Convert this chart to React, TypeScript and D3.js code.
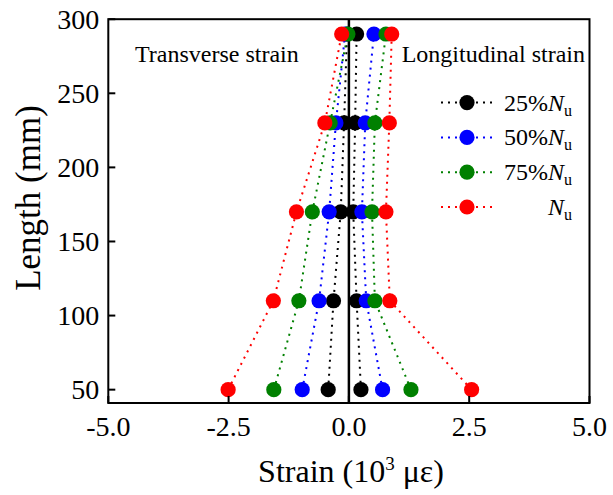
import React from "react";
import * as d3 from "d3";

const lengths = [50, 110, 170, 230, 290];
const seriesNames = ["25%", "50%", "75%", ""];
const seriesColors = ["#000000", "#0000ff", "#008000", "#ff0000"];
const transverse = [
  [-0.43, -0.32, -0.17, -0.10, -0.04],
  [-0.97, -0.62, -0.41, -0.27, -0.08],
  [-1.56, -1.04, -0.76, -0.39, -0.02],
  [-2.51, -1.57, -1.09, -0.50, -0.15],
];
const longitudinal = [
  [0.25, 0.16, 0.09, 0.13, 0.16],
  [0.70, 0.36, 0.27, 0.34, 0.52],
  [1.29, 0.54, 0.48, 0.54, 0.77],
  [2.55, 0.85, 0.77, 0.84, 0.89],
];
const xTicks = [-5, -2.5, 0, 2.5, 5];
const xTickLabels = ["-5.0", "-2.5", "0.0", "2.5", "5.0"];
const yTicks = [50, 100, 150, 200, 250, 300];

const W = 613;
const H = 495;
const left = 108.3;
const right = 589.5;
const top = 19.2;
const bottom = 403;
const FONT = "'Liberation Serif', 'Times New Roman', serif";

export default function App() {
  const x = d3.scaleLinear().domain([-5, 5]).range([left, right]);
  const y = d3.scaleLinear().domain([41, 300]).range([bottom, top]);
  const line = d3
    .line<[number, number]>()
    .x((d) => x(d[0]))
    .y((d) => y(d[1]));

  return (
    <svg
      width={W}
      height={H}
      style={{ position: "absolute", left: 0, top: 0, background: "#fff" }}
      fontFamily={FONT}
    >
      <rect x={0} y={0} width={W} height={H} fill="#fff" />
      {/* zero line */}
      <line x1={x(0)} x2={x(0)} y1={top} y2={bottom} stroke="#000" strokeWidth={2.5} />
      {/* series */}
      {seriesColors.map((c, i) => {
        const tr = lengths.map((l, j) => [transverse[i][j], l] as [number, number]);
        const lo = lengths.map((l, j) => [longitudinal[i][j], l] as [number, number]);
        return (
          <g key={i}>
            <path d={line(tr) || ""} fill="none" stroke={c} strokeWidth={2} strokeDasharray="2,5" />
            <path d={line(lo) || ""} fill="none" stroke={c} strokeWidth={2} strokeDasharray="2,5" />
            {tr.concat(lo).map((p, k) => (
              <circle key={k} cx={x(p[0])} cy={y(p[1])} r={7.6} fill={c} />
            ))}
          </g>
        );
      })}
      {/* frame */}
      <rect x={left} y={top} width={right - left} height={bottom - top} fill="none" stroke="#000" strokeWidth={2} />
      {/* y ticks */}
      {yTicks.map((t) => (
        <g key={t}>
          <line x1={left} x2={left + 7} y1={y(t)} y2={y(t)} stroke="#000" strokeWidth={2} />
          <text x={left - 9} y={y(t)} dy="0.35em" textAnchor="end" fontSize={28}>
            {t}
          </text>
        </g>
      ))}
      {/* x ticks */}
      {xTicks.map((t, i) => (
        <g key={t}>
          <line x1={x(t)} x2={x(t)} y1={bottom} y2={bottom - 7} stroke="#000" strokeWidth={2} />
          <text x={x(t)} y={436} textAnchor="middle" fontSize={28}>
            {xTickLabels[i]}
          </text>
        </g>
      ))}
      {/* axis titles */}
      <text x={351} y={482} textAnchor="middle" fontSize={32}>
        Strain (10
        <tspan dy={-12} fontSize={19}>3</tspan>
        <tspan dy={12}> με)</tspan>
      </text>
      <text
        transform={`translate(40, 198) rotate(-90)`}
        textAnchor="middle"
        fontSize={35}
      >
        Length (mm)
      </text>
      {/* annotations */}
      <text x={135} y={62} fontSize={24}>Transverse strain</text>
      <text x={585} y={62} fontSize={24} textAnchor="end">Longitudinal strain</text>
      {/* legend */}
      {seriesColors.map((c, i) => {
        const ly = 102.6 + i * 34.8;
        return (
          <g key={i}>
            <line x1={441} x2={492} y1={ly} y2={ly} stroke={c} strokeWidth={2} strokeDasharray="2,5" />
            <circle cx={467} cy={ly} r={7.6} fill={c} />
            <text x={572} y={ly + 8} fontSize={24} textAnchor="end">
              {seriesNames[i]}
              <tspan fontStyle="italic">N</tspan>
              <tspan fontSize={16} dy={5}>u</tspan>
            </text>
          </g>
        );
      })}
    </svg>
  );
}
